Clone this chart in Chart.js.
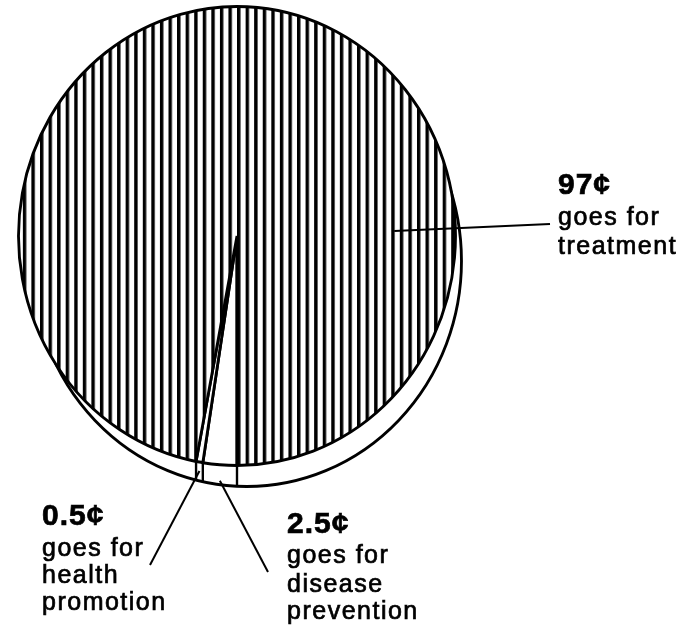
<!DOCTYPE html>
<html>
<head>
<meta charset="utf-8">
<script src="https://cdn.jsdelivr.net/npm/chart.js@4.4.0/dist/chart.umd.min.js"></script>
<style>
    html, body { margin: 0; padding: 0; background: #fff; }
    #wrap { width: 685px; height: 626px; }
</style>
</head>
<body>
<div id="wrap"><canvas id="pieChart" width="685" height="626"></canvas></div>
<script>
// where each health dollar goes (cents)
const categories = ['disease prevention', 'health promotion', 'treatment'];
const cents = [2.5, 0.5, 97];
const amountLabels = ['2.5¢', '0.5¢', '97¢'];
const captionLines = [
    ['goes for', 'disease', 'prevention'],
    ['goes for', 'health', 'promotion'],
    ['goes for', 'treatment']
];

const SCALE_X = 0.952;                  // face is a bit taller than wide
const RIM = { dx: 9.8, dy: 25, dr: -4 }; // side of the disc

function makeHatch() {
    const c = document.createElement('canvas');
    c.width = 9;
    c.height = 8;
    const g = c.getContext('2d');
    g.fillStyle = '#fff';
    g.fillRect(0, 0, 9, 8);
    g.fillStyle = '#000';
    g.fillRect(3, 0, 3.6, 8);
    return g.createPattern(c, 'repeat');
}

const ctx = document.getElementById('pieChart').getContext('2d');
const hatch = makeHatch();

function squash(chart) {
    const arc = chart.getDatasetMeta(0).data[0];
    const c = chart.ctx;
    c.translate(arc.x, 0);
    c.scale(SCALE_X, 1);
    c.translate(-arc.x, 0);
}

function facePoint(arc, angle, rad) {
    return {
        x: arc.x + SCALE_X * rad * Math.cos(angle),
        y: arc.y + rad * Math.sin(angle)
    };
}

const discPlugin = {
    id: 'disc',
    beforeDatasetsDraw(chart) {
        const arcs = chart.getDatasetMeta(0).data;
        const a = arcs[0];
        const r = a.outerRadius;
        const rr = r + RIM.dr;
        const rx = a.x + RIM.dx / SCALE_X;
        const ry = a.y + RIM.dy;
        const c = chart.ctx;
        c.save();
        squash(chart);
        // side of the disc, seen under the face
        c.beginPath();
        c.arc(rx, ry, rr, 0, Math.PI * 2);
        c.fillStyle = '#fff';
        c.fill();
        c.lineWidth = 3;
        c.strokeStyle = '#000';
        c.stroke();
        // slice edges carried straight down the side
        c.lineWidth = 2.5;
        arcs.forEach(el => {
            const ang = el.startAngle;
            if (Math.sin(ang) < 0.5) return;
            const px = a.x + r * Math.cos(ang);
            const py = a.y + r * Math.sin(ang);
            const bottom = ry + Math.sqrt(Math.max(rr * rr - (px - rx) * (px - rx), 0));
            c.beginPath();
            c.moveTo(px, py);
            c.lineTo(px, bottom);
            c.stroke();
        });
        c.restore();
        c.save();
        squash(chart);
    },
    afterDatasetsDraw(chart) {
        chart.ctx.restore();
    },
    afterDraw(chart) {
        const arcs = chart.getDatasetMeta(0).data;
        const a = arcs[0];
        const r = a.outerRadius;
        const c = chart.ctx;
        const mid = el => (el.startAngle + el.endAngle) / 2;

        // leader lines
        const p0 = facePoint(a, mid(arcs[0]), r);
        const p1 = facePoint(a, mid(arcs[1]), r);
        const p2 = facePoint(a, -0.03, 0.72 * r);
        const leaders = [
            [p0.x, p0.y + 16, 268, 572],
            [p1.x, p1.y + 9, 150, 565],
            [p2.x, p2.y, 550, 224]
        ];
        c.save();
        c.strokeStyle = '#000';
        c.lineWidth = 2;
        leaders.forEach(l => {
            c.beginPath();
            c.moveTo(l[0], l[1]);
            c.lineTo(l[2], l[3]);
            c.stroke();
        });

        // labels
        const spots = [
            { x: 287, base: [533, 563, 592, 619] },
            { x: 42, base: [525, 556, 583, 610] },
            { x: 558, base: [194, 225, 254] }
        ];
        c.fillStyle = '#000';
        c.strokeStyle = '#000';
        c.lineWidth = 0.7;
        c.textBaseline = 'alphabetic';
        c.textAlign = 'left';
        spots.forEach((s, i) => {
            c.font = 'bold 30px "Liberation Sans", Arial, sans-serif';
            c.letterSpacing = '1px';
            c.fillText(amountLabels[i], s.x, s.base[0]);
            c.strokeText(amountLabels[i], s.x, s.base[0]);
            c.font = '25px "Liberation Sans", Arial, sans-serif';
            c.letterSpacing = '1.5px';
            captionLines[i].forEach((t, j) => {
                c.fillText(t, s.x, s.base[j + 1]);
                c.strokeText(t, s.x, s.base[j + 1]);
            });
        });
        c.restore();
    }
};

new Chart(ctx, {
    type: 'pie',
    data: {
        labels: categories,
        datasets: [{
            data: cents,
            backgroundColor: ['#fff', '#fff', hatch],
            borderColor: '#000',
            borderWidth: 3
        }]
    },
    options: {
        responsive: false,
        animation: false,
        rotation: 180,
        layout: {
            padding: { left: 6, top: 5, right: 217, bottom: 159 }
        },
        plugins: {
            legend: { display: false },
            tooltip: { enabled: false }
        }
    },
    plugins: [discPlugin]
});
</script>
</body>
</html>
